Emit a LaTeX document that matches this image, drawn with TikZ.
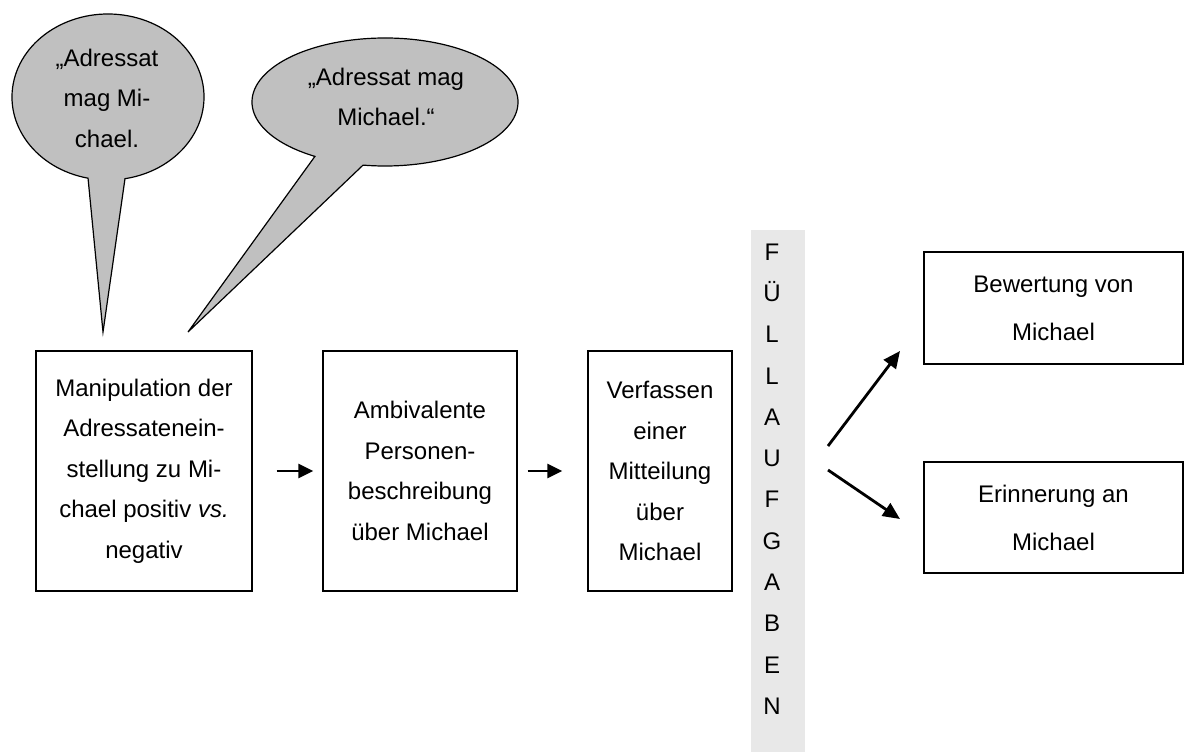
\documentclass[tikz,border=0pt]{standalone}
\usepackage{fontspec}
\setmainfont{Liberation Sans}
\usetikzlibrary{arrows.meta}
\definecolor{bubblegray}{HTML}{C0C0C0}
\definecolor{bargray}{HTML}{E8E8E8}
\begin{document}
\begin{tikzpicture}[x=1pt,y=-1pt,
  every node/.style={font=\fontsize{24}{40.5}\selectfont, inner sep=0pt},
  stepbox/.style={draw, line width=1.2pt, align=center},
  bubble/.style={draw, line width=1.2pt, fill=bubblegray, line join=miter},
  arr/.style={line width=2.8pt, -{Triangle[length=15pt,width=14pt]}},
  darr/.style={line width=2.8pt, -{Triangle[length=17pt,width=15pt]}}]
\useasboundingbox[fill=white] (0,0) rectangle (1184,752);
% speech bubbles
\coordinate (c1) at (108,97);
\coordinate (t1) at (103,332);
\draw[bubble] (c1) ++(102:96 and 83) arc[start angle=102, end angle=439.8, x radius=96, y radius=83] -- (t1) -- cycle;
\node[align=center] (s1) at (107,98) {„Adressat\\mag Mi-\\chael.};
\coordinate (c2) at (385,102);
\coordinate (t2) at (188,332);
\draw[bubble] (c2) ++(121.8:133 and 64) arc[start angle=121.8, end angle=459.5, x radius=133, y radius=64] -- (t2) -- cycle;
\node[align=center] (s2) at (386,97) {„Adressat mag\\Michael.“};
% boxes
\node[stepbox, minimum width=216pt, minimum height=240pt] (b1) at (144,471)
  {Manipulation der\\Adressatenein-\\stellung zu Mi-\\chael positiv \textit{vs.}\\negativ};
\node[stepbox, minimum width=194pt, minimum height=240pt] (b2) at (420,471)
  {Ambivalente\\Personen-\\beschreibung\\über Michael};
\node[stepbox, minimum width=144pt, minimum height=240pt] (b3) at (660,471)
  {Verfassen\\einer\\Mitteilung\\über\\Michael};
% filler bar
\node[fill=bargray, minimum width=54pt, minimum height=522pt] (bar) at (778,491) {};
\node[align=center, font=\fontsize{24}{41.3}\selectfont] (barlbl) at (772,479)
  {F\\Ü\\L\\L\\A\\U\\F\\G\\A\\B\\E\\N};
% outcome boxes
\node[stepbox, minimum width=259pt, minimum height=112pt, font=\fontsize{24}{48}\selectfont] (bew) at (1053.5,308)
  {Bewertung von\\Michael};
\node[stepbox, minimum width=259pt, minimum height=111pt, font=\fontsize{24}{48}\selectfont] (eri) at (1053.5,517.5)
  {Erinnerung an\\Michael};
% arrows
\draw[arr, shorten <=24pt, shorten >=9pt] (b1.east) -- (b2.west);
\draw[arr, shorten <=10pt, shorten >=25pt] (b2.east) -- (b3.west);
\coordinate (u0) at (828,446);
\coordinate (u1) at (900,351);
\coordinate (d0) at (828,470);
\coordinate (d1) at (900,519);
\draw[darr] (u0) -- (u1);
\draw[darr] (d0) -- (d1);
\end{tikzpicture}
\end{document}
